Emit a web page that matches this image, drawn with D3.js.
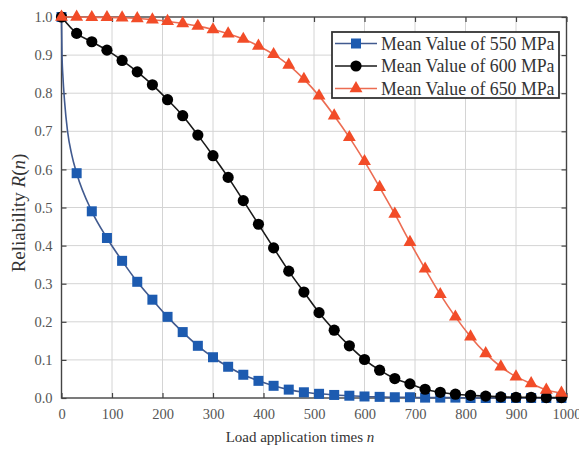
<!DOCTYPE html>
<html>
<head>
<meta charset="utf-8">
<script src="https://cdn.jsdelivr.net/npm/d3@7"></script>
<style>
  body { margin: 0; background: #fff; }
  svg text { font-family: "Liberation Serif", "Times New Roman", serif; }
</style>
</head>
<body>
<svg id="chart" width="579" height="452"></svg>
<script>
// load application times where markers sit
var loads = [0, 30, 60, 90, 120, 150, 180, 210, 240, 270, 300, 330, 360, 390, 420, 450, 480,
             510, 540, 570, 600, 630, 660, 690, 720, 750, 780, 810, 840, 870, 900, 930, 960, 990];

var r550 = [1.0, 0.59, 0.49, 0.42, 0.36, 0.305, 0.258, 0.213, 0.173, 0.137, 0.107, 0.082, 0.061, 0.045,
            0.032, 0.022, 0.015, 0.011, 0.008, 0.006, 0.004, 0.003, 0.002, 0.002, 0.001, 0.001, 0.001,
            0, 0, 0, 0, 0, 0, 0];
var r600 = [1.0, 0.957, 0.935, 0.913, 0.886, 0.856, 0.822, 0.783, 0.741, 0.690, 0.636, 0.579, 0.518,
            0.456, 0.394, 0.333, 0.278, 0.224, 0.178, 0.137, 0.101, 0.073, 0.051, 0.037, 0.023, 0.015,
            0.010, 0.007, 0.005, 0.003, 0.002, 0.002, 0.001, 0.001];
var r650 = [1.0, 1.0, 0.999, 0.999, 0.998, 0.996, 0.993, 0.989, 0.983, 0.976, 0.967, 0.956, 0.942,
            0.924, 0.902, 0.874, 0.837, 0.793, 0.741, 0.684, 0.621, 0.553, 0.483, 0.409, 0.339, 0.272,
            0.213, 0.161, 0.117, 0.082, 0.056, 0.038, 0.021, 0.013];

// the 550 MPa curve drops steeply before its first marker
var head550N = [0, 1, 3, 6, 12, 20];
var head550R = [1.0, 0.90, 0.84, 0.78, 0.70, 0.64];

var seriesNames = ["Mean Value of 550 MPa", "Mean Value of 600 MPa", "Mean Value of 650 MPa"];
var xTicks = [0, 100, 200, 300, 400, 500, 600, 700, 800, 900, 1000];
var yTicks = [0, 0.1, 0.2, 0.3, 0.4, 0.5, 0.6, 0.7, 0.8, 0.9, 1.0];

var svg = d3.select("#chart");
var margin = { left: 61.5, right: 566.5, top: 17, bottom: 398 };

var x = d3.scaleLinear().domain([0, 1000]).range([margin.left, margin.right]);
var y = d3.scaleLinear().domain([0, 1]).range([margin.bottom, margin.top]);

// grid
svg.append("g").selectAll("line").data(xTicks.slice(1, -1)).enter().append("line")
    .attr("x1", d => x(d)).attr("x2", d => x(d))
    .attr("y1", margin.top).attr("y2", margin.bottom)
    .attr("stroke", "#d4d4d4").attr("stroke-width", 1);
svg.append("g").selectAll("line").data(yTicks.slice(1, -1)).enter().append("line")
    .attr("x1", margin.left).attr("x2", margin.right)
    .attr("y1", d => y(d)).attr("y2", d => y(d))
    .attr("stroke", "#d4d4d4").attr("stroke-width", 1);

// axes with inward ticks
svg.append("g")
    .attr("transform", "translate(0," + margin.bottom + ")")
    .call(d3.axisBottom(x).tickValues(xTicks).tickFormat(d3.format("d")).tickSizeInner(-5).tickSizeOuter(0).tickPadding(11));
svg.append("g")
    .attr("transform", "translate(" + margin.left + ",0)")
    .call(d3.axisLeft(y).tickValues(yTicks).tickFormat(d3.format(".1f")).tickSizeInner(-5).tickSizeOuter(0).tickPadding(9));
svg.append("g")
    .attr("transform", "translate(0," + margin.top + ")")
    .call(d3.axisTop(x).tickValues(xTicks).tickFormat("").tickSizeInner(-5).tickSizeOuter(0));
svg.append("g")
    .attr("transform", "translate(" + margin.right + ",0)")
    .call(d3.axisRight(y).tickValues(yTicks).tickFormat("").tickSizeInner(-5).tickSizeOuter(0));

svg.selectAll(".domain").attr("stroke", "none");
svg.selectAll(".tick line").attr("stroke", "#444").attr("stroke-width", 1.2);
svg.selectAll(".tick text").attr("fill", "#555").style("font-size", "14.5px");

svg.append("rect")
    .attr("x", margin.left).attr("y", margin.top)
    .attr("width", margin.right - margin.left).attr("height", margin.bottom - margin.top)
    .attr("fill", "none").attr("stroke", "#444").attr("stroke-width", 1.4);

var line = d3.line()
    .curve(d3.curveMonotoneX)
    .x(d => x(d.n))
    .y(d => y(d.r));

var series = [
  { name: seriesNames[0], values: r550, head: true, line: "#415a8f", fill: "#1d5bb0", shape: "square" },
  { name: seriesNames[1], values: r600, head: false, line: "#1a1a1a", fill: "#000", shape: "circle" },
  { name: seriesNames[2], values: r650, head: false, line: "#ec6c52", fill: "#f24c28", shape: "triangle" }
];

function drawMarker(g, s, cx, cy) {
  if (s.shape === "square") {
    g.append("rect").attr("x", cx - 5).attr("y", cy - 5).attr("width", 10).attr("height", 10).attr("fill", s.fill);
  } else if (s.shape === "circle") {
    g.append("circle").attr("cx", cx).attr("cy", cy).attr("r", 5.6).attr("fill", s.fill);
  } else {
    g.append("path").attr("d", d3.symbol(d3.symbolTriangle, 72)())
      .attr("transform", "translate(" + cx + "," + cy + ")").attr("fill", s.fill);
  }
}

series.forEach(function(s) {
  var pts = loads.map((n, i) => ({ n: n, r: s.values[i] }));
  var linePts = pts;
  if (s.head) {
    linePts = head550N.map((n, i) => ({ n: n, r: head550R[i] })).concat(pts.slice(1));
  }
  var g = svg.append("g");
  g.append("path").attr("d", line(linePts))
    .attr("fill", "none").attr("stroke", s.line).attr("stroke-width", 1.6);
  pts.forEach(p => drawMarker(g, s, x(p.n), y(p.r)));
});

// legend
var lg = svg.append("g");
lg.append("rect").attr("x", 332).attr("y", 32).attr("width", 227).attr("height", 66)
  .attr("fill", "#fff").attr("stroke", "#333").attr("stroke-width", 1.8);
series.forEach(function(s, i) {
  var cy = 43.5 + i * 22.5;
  lg.append("line").attr("x1", 335).attr("x2", 377).attr("y1", cy).attr("y2", cy)
    .attr("stroke", s.line).attr("stroke-width", 1.6);
  drawMarker(lg, s, 356, cy);
  lg.append("text").attr("x", 381).attr("y", cy + 6)
    .attr("fill", "#333").style("font-size", "17.8px").text(s.name);
});

// axis titles
var xt = svg.append("text").attr("x", 300).attr("y", 442).attr("text-anchor", "middle")
  .attr("fill", "#333").style("font-size", "15px");
xt.append("tspan").text("Load application times ");
xt.append("tspan").style("font-style", "italic").text("n");

var yt = svg.append("text").attr("transform", "translate(25,213) rotate(-90)").attr("text-anchor", "middle")
  .attr("fill", "#333").style("font-size", "19px");
yt.append("tspan").text("Reliability ");
yt.append("tspan").style("font-style", "italic").text("R");
yt.append("tspan").text("(");
yt.append("tspan").style("font-style", "italic").text("n");
yt.append("tspan").text(")");
</script>
</body>
</html>
